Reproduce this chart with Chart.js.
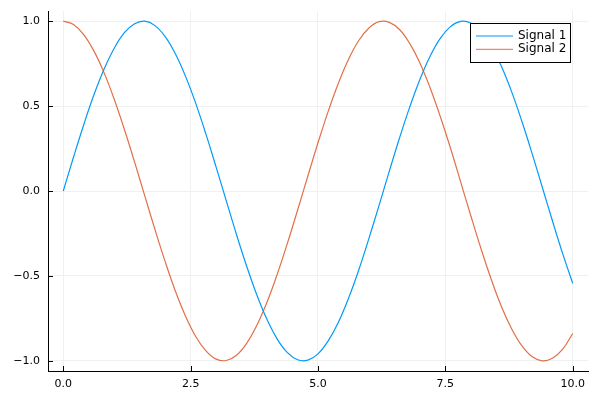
<!DOCTYPE html>
<html>
<head>
<meta charset="utf-8">
<script src="https://cdn.jsdelivr.net/npm/chart.js@4/dist/chart.umd.min.js"></script>
<style>
html,body{margin:0;padding:0;background:#fff;}
#wrap{width:600px;height:400px;position:relative;}
</style>
</head>
<body>
<div id="wrap"><canvas id="c" width="600" height="400"></canvas></div>
<script>
const xValues = [0.0,0.2,0.4,0.6,0.8,1.0,1.2,1.4,1.6,1.8,2.0,2.2,2.4,2.6,2.8,3.0,3.2,3.4,3.6,3.8,4.0,4.2,4.4,4.6,4.8,5.0,5.2,5.4,5.6,5.8,6.0,6.2,6.4,6.6,6.8,7.0,7.2,7.4,7.6,7.8,8.0,8.2,8.4,8.6,8.8,9.0,9.2,9.4,9.6,9.8,10.0];
const signal1 = [0.000,0.199,0.389,0.565,0.717,0.841,0.932,0.985,1.000,0.974,0.909,0.808,0.675,0.516,0.335,0.141,-0.058,-0.256,-0.443,-0.612,-0.757,-0.872,-0.952,-0.994,-0.996,-0.959,-0.883,-0.773,-0.631,-0.465,-0.279,-0.083,0.117,0.312,0.494,0.657,0.794,0.899,0.968,0.999,0.989,0.941,0.855,0.734,0.585,0.412,0.223,0.025,-0.174,-0.366,-0.544];
const signal2 = [1.000,0.980,0.921,0.825,0.697,0.540,0.362,0.170,-0.029,-0.227,-0.416,-0.589,-0.737,-0.857,-0.942,-0.990,-0.998,-0.967,-0.897,-0.791,-0.654,-0.490,-0.307,-0.112,0.087,0.284,0.469,0.635,0.776,0.886,0.960,0.997,0.993,0.951,0.869,0.754,0.608,0.439,0.253,0.054,-0.146,-0.340,-0.520,-0.680,-0.811,-0.911,-0.975,-1.000,-0.985,-0.933,-0.839];
const seriesNames = ["Signal 1","Signal 2"];
const seriesColors = ["#009AFA","#E36F47"];
const xTicks = [0,2.5,5,7.5,10];
const yTicks = [-1,-0.5,0,0.5,1];

const FONT = "DejaVu Sans, sans-serif";
function fmt(v){ const s = Number(v).toFixed(1); return s.replace('-', '\u2212'); }

const inwardTicks = {
  id:'inwardTicks',
  afterDatasetsDraw(chart){
    const ctx = chart.ctx, a = chart.chartArea;
    const xs = chart.scales.x, ys = chart.scales.y;
    ctx.save();
    ctx.strokeStyle = '#000'; ctx.lineWidth = 1;
    ctx.beginPath();
    xTicks.forEach(t=>{ const p = Math.round(xs.getPixelForValue(t))+0.5; ctx.moveTo(p,a.bottom); ctx.lineTo(p,a.bottom-5); });
    yTicks.forEach(t=>{ const p = Math.round(ys.getPixelForValue(t))+0.5; ctx.moveTo(a.left,p); ctx.lineTo(a.left+5,p); });
    ctx.stroke();
    ctx.restore();
  }
};

const insetLegend = {
  id:'insetLegend',
  afterDraw(chart){
    const ctx = chart.ctx;
    const bx = 470.5, by = 23.5, bw = 100, bh = 39;
    ctx.save();
    ctx.fillStyle = '#fff';
    ctx.fillRect(bx,by,bw,bh);
    ctx.strokeStyle = '#000'; ctx.lineWidth = 1;
    ctx.strokeRect(bx,by,bw,bh);
    ctx.font = '12px ' + FONT;
    ctx.textBaseline = 'middle';
    ctx.fillStyle = '#000';
    seriesNames.forEach((n,i)=>{
      const y = 36 + i*13.3;
      ctx.strokeStyle = seriesColors[i];
      ctx.beginPath(); ctx.moveTo(476,y); ctx.lineTo(513,y); ctx.stroke();
      ctx.fillText(n, 518, y);
    });
    ctx.restore();
  }
};

const datasets = [signal1, signal2].map((arr,i)=>({
  label: seriesNames[i],
  data: xValues.map((x,j)=>({x:x, y:arr[j]})),
  borderColor: seriesColors[i],
  borderWidth: 1.2,
  pointRadius: 0,
  fill: false,
  tension: 0.4
}));

new Chart(document.getElementById('c'), {
  type:'line',
  data:{datasets},
  plugins:[inwardTicks, insetLegend],
  options:{
    responsive:false,
    animation:false,
    layout:{padding:{left:0,right:12,top:11,bottom:0}},
    plugins:{legend:{display:false},tooltip:{enabled:false}},
    scales:{
      x:{
        type:'linear', min:-0.3, max:10.3,
        afterBuildTicks(s){ s.ticks = xTicks.map(v=>({value:v})); },
        afterFit(s){ s.height = 29; s.paddingLeft = 0; s.paddingRight = 0; },
        grid:{color:'#f0f0f0', lineWidth:1, drawTicks:false},
        border:{display:true, color:'#000', width:1},
        ticks:{padding:7, color:'#000', font:{family:FONT,size:11}, maxRotation:0, callback:v=>fmt(v)}
      },
      y:{
        type:'linear', min:-1.06, max:1.06,
        afterBuildTicks(s){ s.ticks = yTicks.map(v=>({value:v})); },
        afterFit(s){ s.width = 48; s.paddingTop = 0; s.paddingBottom = 0; },
        grid:{color:'#f0f0f0', lineWidth:1, drawTicks:false},
        border:{display:true, color:'#000', width:1},
        ticks:{padding:8, color:'#000', font:{family:FONT,size:11}, callback:v=>fmt(v)}
      }
    }
  }
});
</script>
</body>
</html>
